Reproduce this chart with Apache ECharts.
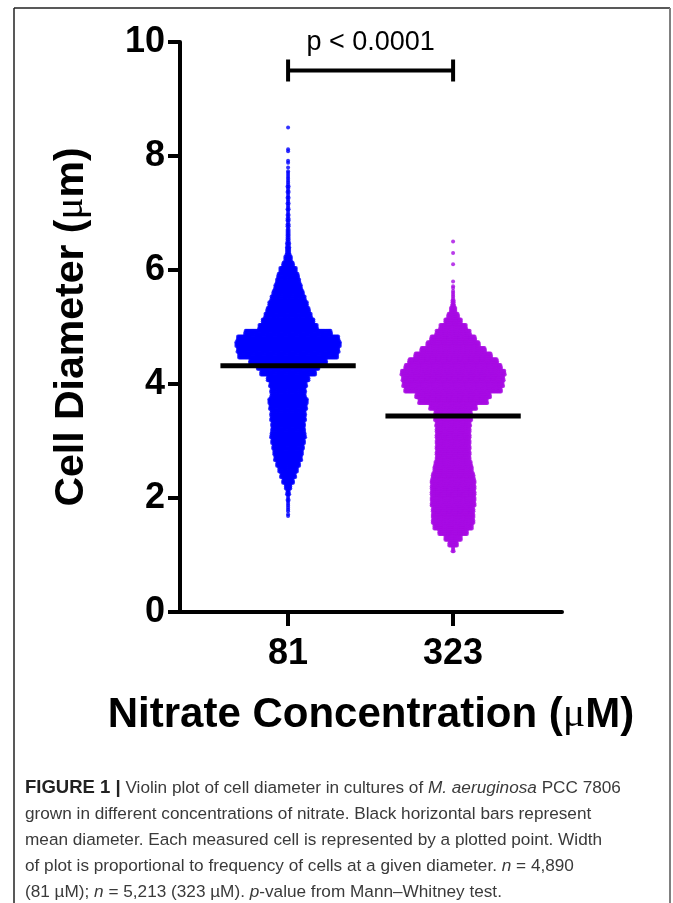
<!DOCTYPE html>
<html>
<head>
<meta charset="utf-8">
<script src="https://cdn.jsdelivr.net/npm/echarts@6/dist/echarts.min.js"></script>
<style>
  html, body { margin: 0; padding: 0; background: #fff; }
  #chart { width: 673px; height: 903px; }
</style>
</head>
<body>
<div id="chart"></div>
<script>
// ---------------- data ----------------
const categories = ['81', '323'];            // nitrate concentration (µM)
const yTickValues = [0, 2, 4, 6, 8, 10];
const meanDiameter = [4.32, 3.44];          // black horizontal bars
const pValueText = 'p < 0.0001';

// histogram of cell diameters (bin centre, µm) and number of cells per bin
const diam81 = [1.7, 1.8, 1.9, 2.0, 2.1, 2.2, 2.3, 2.4, 2.5, 2.6, 2.7, 2.8, 2.9,
  3.0, 3.1, 3.2, 3.3, 3.4, 3.5, 3.6, 3.7, 3.8, 3.9,
  4.0, 4.1, 4.2, 4.3, 4.4, 4.5, 4.6, 4.7, 4.8, 4.9,
  5.0, 5.1, 5.2, 5.3, 5.4, 5.5, 5.6, 5.7, 5.8, 5.9,
  6.0, 6.1, 6.2, 6.3, 6.4, 6.5, 6.6, 6.7, 6.8, 6.9,
  7.0, 7.1, 7.2, 7.3, 7.4, 7.5, 7.6, 7.7, 7.8, 7.9,
  8.0, 8.1, 8.2, 8.3, 8.4, 8.5];
const count81 = [2, 3, 3, 4, 7, 15, 29, 40, 51, 62, 73, 78, 83,
  89, 94, 89, 89, 94, 94, 100, 105, 94, 94,
  100, 113, 149, 168, 209, 270, 277, 285, 277, 236,
  160, 141, 127, 116, 105, 94, 83, 73, 64, 56,
  45, 29, 18, 10, 8, 7, 6, 5, 5, 5,
  4, 4, 4, 4, 4, 4, 3, 3, 1, 2,
  0, 2, 0, 0, 0, 1];

const diam323 = [1.1, 1.2, 1.3, 1.4, 1.5, 1.6, 1.7, 1.8, 1.9,
  2.0, 2.1, 2.2, 2.3, 2.4, 2.5, 2.6, 2.7, 2.8, 2.9,
  3.0, 3.1, 3.2, 3.3, 3.4, 3.5, 3.6, 3.7, 3.8, 3.9,
  4.0, 4.1, 4.2, 4.3, 4.4, 4.5, 4.6, 4.7, 4.8, 4.9,
  5.0, 5.1, 5.2, 5.3, 5.4, 5.5, 5.6, 5.7, 5.8, 5.9,
  6.0, 6.1, 6.2, 6.3, 6.4, 6.5];
const count323 = [4, 23, 45, 78, 105, 113, 113, 113, 119,
  119, 119, 119, 119, 113, 105, 100, 92, 92, 92,
  92, 92, 92, 94, 100, 100, 127, 187, 203, 263,
  274, 277, 283, 263, 242, 209, 176, 143, 122, 94,
  73, 45, 29, 15, 7, 4, 3, 2, 1, 0,
  0, 1, 0, 1, 0, 1];

// ---------------- swarm layout (positions derived from the histogram) ----------------
const FONT = '"Liberation Sans", Arial, Helvetica, sans-serif';
const ROWS_PER_BIN = 3;
const BIN = 0.1;
const DOT_STEP = 1.1 / 165;   // horizontal spacing between neighbouring dots, in x-axis units

function swarm(catIndex, diam, count) {
  const pts = [];
  for (let b = 0; b < diam.length; b++) {
    const c = count[b];
    if (!c) continue;
    const rows = Math.min(ROWS_PER_BIN, c);
    const base = Math.floor(c / rows), extra = c % rows;
    for (let r = 0; r < rows; r++) {
      const m = base + (r < extra ? 1 : 0);
      const y = diam[b] + (r - (rows - 1) / 2) * (BIN / ROWS_PER_BIN);
      for (let j = 0; j < m; j++) {
        pts.push([catIndex + (j - (m - 1) / 2) * DOT_STEP, y]);
      }
    }
  }
  return pts;
}

const xPos = categories.map((c, i) => i + 1);

const chart = echarts.init(document.getElementById('chart'), null, { renderer: 'canvas' });

const captionText =
  '{b|FIGURE 1 |} Violin plot of cell diameter in cultures of {i|M. aeruginosa} PCC 7806\n' +
  'grown in different concentrations of nitrate. Black horizontal bars represent\n' +
  'mean diameter. Each measured cell is represented by a plotted point. Width\n' +
  'of plot is proportional to frequency of cells at a given diameter. {i|n} = 4,890\n' +
  '(81 \u00b5M); {i|n} = 5,213 (323 \u00b5M). {i|p}-value from Mann\u2013Whitney test.';

const CAP = 17.2;

const option = {
  animation: false,
  backgroundColor: '#ffffff',
  grid: { left: 180, right: 111, top: 42, bottom: 291, containLabel: false },
  xAxis: {
    type: 'value',
    min: 0.345,
    max: 2.66,
    splitLine: { show: false },
    axisLine: { show: true, onZero: false, lineStyle: { color: '#000', width: 4 } },
    axisTick: { show: true, customValues: xPos, length: 14, lineStyle: { color: '#000', width: 4 } },
    axisLabel: {
      customValues: xPos,
      formatter: v => categories[Math.round(v) - 1],
      fontFamily: FONT, fontWeight: 'bold', fontSize: 36, color: '#000', margin: 24
    },
    name: 'Nitrate Concentration ({mu|\u03bc}M)',
    nameLocation: 'middle',
    nameGap: 82,
    nameTextStyle: {
      fontFamily: FONT, fontWeight: 'bold', fontSize: 42, color: '#000',
      rich: { mu: { fontFamily: '"Liberation Serif", serif', fontWeight: 'normal', fontSize: 42, color: '#000' } }
    }
  },
  yAxis: {
    type: 'value',
    min: yTickValues[0],
    max: yTickValues[yTickValues.length - 1],
    interval: 2,
    splitLine: { show: false },
    axisLine: { show: true, lineStyle: { color: '#000', width: 4 } },
    axisTick: { show: true, length: 12, lineStyle: { color: '#000', width: 4 } },
    axisLabel: { fontFamily: FONT, fontWeight: 'bold', fontSize: 36, color: '#000', margin: 15 },
    name: 'Cell Diameter ({mu|\u03bc}m)',
    nameLocation: 'middle',
    nameGap: 88,
    nameTextStyle: {
      fontFamily: FONT, fontWeight: 'bold', fontSize: 41, color: '#000',
      rich: { mu: { fontFamily: '"Liberation Serif", serif', fontWeight: 'normal', fontSize: 41, color: '#000' } }
    }
  },
  series: [
    {
      name: categories[0], type: 'scatter', data: swarm(xPos[0], diam81, count81),
      symbol: 'circle', symbolSize: 4, itemStyle: { color: '#0000FF' },
      progressive: 0, large: false, silent: true, z: 2
    },
    {
      name: categories[1], type: 'scatter', data: swarm(xPos[1], diam323, count323),
      symbol: 'circle', symbolSize: 4, itemStyle: { color: '#A70BE3' },
      progressive: 0, large: false, silent: true, z: 2
    },
    {
      name: 'mean', type: 'custom', z: 5, clip: false, silent: true,
      data: xPos.map((x, i) => [x, meanDiameter[i]]),
      encode: { x: 0, y: 1 },
      renderItem: function (params, api) {
        const p1 = api.coord([api.value(0) - 0.41, api.value(1)]);
        const p2 = api.coord([api.value(0) + 0.41, api.value(1)]);
        return { type: 'line', shape: { x1: p1[0], y1: p1[1], x2: p2[0], y2: p2[1] },
                 style: { stroke: '#000', lineWidth: 5 } };
      }
    },
    {
      name: 'significance', type: 'custom', z: 5, clip: false, silent: true,
      data: [[xPos[0], xPos[1], 9.5, 10.0]],
      encode: { x: [0, 1], y: [2, 3] },
      renderItem: function (params, api) {
        const a = api.coord([api.value(0), api.value(2)]);
        const b = api.coord([api.value(1), api.value(2)]);
        const t = api.coord([(api.value(0) + api.value(1)) / 2, api.value(3)]);
        const cap = 11;
        const st = { stroke: '#000', lineWidth: 4 };
        return { type: 'group', children: [
          { type: 'line', shape: { x1: a[0], y1: a[1], x2: b[0], y2: b[1] }, style: st },
          { type: 'line', shape: { x1: a[0], y1: a[1] - cap, x2: a[0], y2: a[1] + cap }, style: st },
          { type: 'line', shape: { x1: b[0], y1: b[1] - cap, x2: b[0], y2: b[1] + cap }, style: st },
          { type: 'text', x: t[0], y: t[1] + 1,
            style: { text: pValueText, fontFamily: FONT, fontSize: 27, fill: '#000',
                     align: 'center', verticalAlign: 'middle' } }
        ] };
      }
    }
  ],
  graphic: [
    { type: 'line', shape: { x1: 14, y1: 8, x2: 670, y2: 8 }, style: { stroke: '#222', lineWidth: 1.5 } },
    { type: 'line', shape: { x1: 14, y1: 8, x2: 14, y2: 903 }, style: { stroke: '#222', lineWidth: 1.5 } },
    { type: 'line', shape: { x1: 670, y1: 8, x2: 670, y2: 903 }, style: { stroke: '#808080', lineWidth: 2 } },
    {
      type: 'text', left: 25, top: 775,
      style: {
        text: captionText, fontFamily: FONT, fontSize: CAP, lineHeight: 26, fill: '#3a3a3a',
        rich: {
          b: { fontFamily: FONT, fontWeight: 'bold', fontSize: 18.5, lineHeight: 26, fill: '#222' },
          i: { fontFamily: FONT, fontStyle: 'italic', fontSize: CAP, lineHeight: 26, fill: '#3a3a3a' }
        }
      }
    }
  ]
};

chart.setOption(option);
</script>
</body>
</html>
